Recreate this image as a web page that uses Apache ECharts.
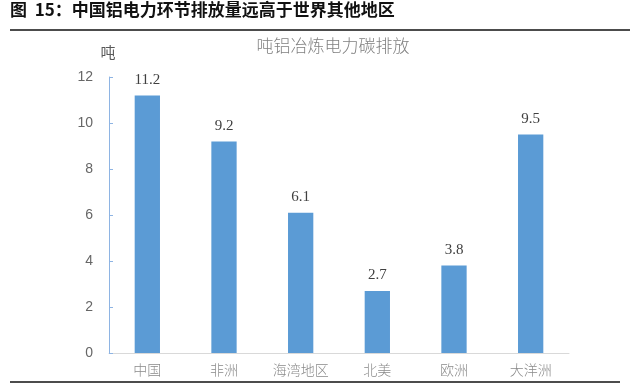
<!DOCTYPE html>
<html>
<head>
<meta charset="utf-8">
<script src="https://cdn.jsdelivr.net/npm/echarts@6/dist/echarts.min.js"></script>
<style>
html,body{margin:0;padding:0;background:#fff;}
#c{width:640px;height:388px;}
</style>
</head>
<body>
<div id="c"></div>
<script>
const figTitle = '图  15：中国铝电力环节排放量远高于世界其他地区';
const chartTitle = '吨铝冶炼电力碳排放';
const unitLabel = '吨';
const categories = ['中国', '非洲', '海湾地区', '北美', '欧洲', '大洋洲'];
const values = [11.2, 9.2, 6.1, 2.7, 3.8, 9.5];
const yTicks = [0, 2, 4, 6, 8, 10, 12];

const chart = echarts.init(document.getElementById('c'), null, {renderer: 'canvas'});
const cjk = '"Noto Sans CJK SC", "Noto Sans", sans-serif';
chart.setOption({
  animation: false,
  backgroundColor: '#fff',
  title: {
    text: chartTitle,
    left: 328, top: 32, textAlign: 'center',
    textStyle: {fontFamily: cjk, fontSize: 17, fontWeight: 300, color: '#808080'}
  },
  graphic: [
    {type: 'text', left: 10, top: 1,
      style: {text: figTitle, font: 'bold 17px ' + cjk, fill: '#111'}},
    {type: 'line', shape: {x1: 10, y1: 30, x2: 630, y2: 30},
      style: {stroke: '#111', lineWidth: 1.5}},
    {type: 'line', shape: {x1: 10, y1: 382, x2: 620, y2: 382},
      style: {stroke: '#111', lineWidth: 1.5}},
    {type: 'text', x: 108, y: 52,
      style: {text: unitLabel, font: '15px ' + cjk, fill: '#595959', align: 'center', verticalAlign: 'middle'}}
  ],
  grid: {left: 109, right: 71, top: 77, bottom: 35},
  xAxis: {
    type: 'category',
    data: categories,
    axisLine: {lineStyle: {color: '#d9d9d9', width: 1}},
    axisTick: {show: false},
    axisLabel: {fontFamily: cjk, fontSize: 14, fontWeight: 300, color: '#8a8a8a', margin: 10}
  },
  yAxis: {
    type: 'value',
    min: yTicks[0], max: yTicks[yTicks.length - 1], interval: 2,
    splitLine: {show: false},
    axisLine: {show: true, lineStyle: {color: '#8eb4e3', width: 1}},
    axisTick: {show: true, inside: true, length: 4, lineStyle: {color: '#8eb4e3'}},
    axisLabel: {fontFamily: '"Liberation Sans", sans-serif', fontSize: 14, color: '#666', margin: 16}
  },
  series: [{
    type: 'bar',
    data: values,
    barWidth: '33%',
    itemStyle: {color: '#5b9bd5'},
    label: {show: true, position: 'top', distance: 8,
      fontFamily: '"Liberation Serif", serif', fontSize: 15, color: '#404040',
      formatter: p => p.value.toFixed(1)}
  }]
});
</script>
</body>
</html>
